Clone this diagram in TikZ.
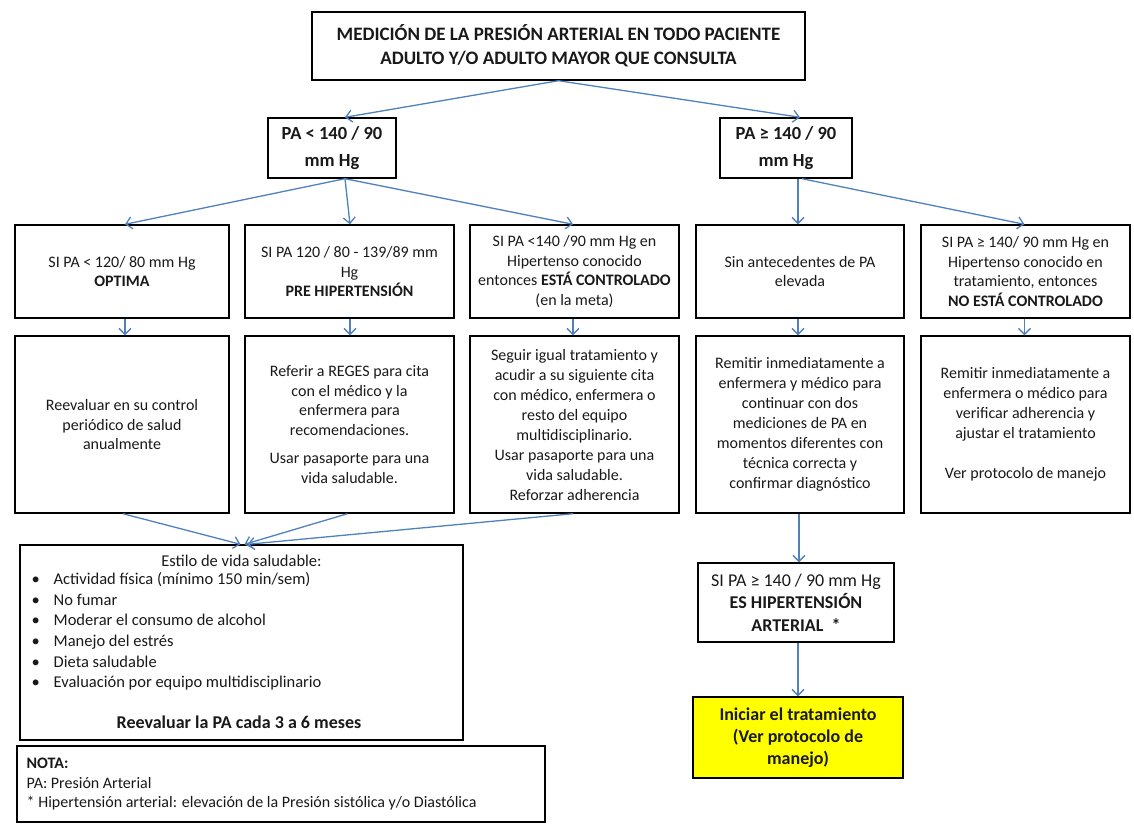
\documentclass[tikz,border=0pt]{standalone}
\usepackage{fontspec}
\setmainfont{Carlito}
\usetikzlibrary{arrows.meta}
\definecolor{arrowblue}{RGB}{79,129,189}
\definecolor{hlyellow}{RGB}{255,255,0}
\tikzset{
  box/.style={draw=black, line width=1.4pt, align=center, inner sep=2pt, text=black!90,
    font=\fontsize{16}{19.5}\selectfont},
  bigbox/.style={box, font=\fontsize{19}{24}\selectfont\bfseries},
  pabox/.style={box, font=\fontsize{18.5}{27}\selectfont\bfseries, minimum height=60},
  rowone/.style={box, minimum height=93},
  rowtwo/.style={box, minimum height=177},
  plain/.style={box, draw=none},
  arr/.style={draw=arrowblue, line width=1.3pt, -{Straight Barb[length=6pt,width=12pt,line width=1.3pt]}},
}
\newcommand{\bul}{\makebox[22pt][l]{•}}
\begin{document}
\begin{tikzpicture}[x=1pt,y=-1pt]
\useasboundingbox (0,0) rectangle (1134,828);

\node[bigbox, minimum width=493, minimum height=68] (top) at (558.5,46)
  {MEDICIÓN DE LA PRESIÓN ARTERIAL EN TODO PACIENTE\\ADULTO Y/O ADULTO MAYOR QUE CONSULTA};
\node[pabox, minimum width=128] (pa1) at (332,148) {PA < 140 / 90\\mm Hg};
\node[pabox, minimum width=132] (pa2) at (786,148) {PA ≥ 140 / 90\\mm Hg};

% row 1
\node[rowone, minimum width=214] (b1) at (122,271.5)
  {SI PA < 120/ 80 mm Hg\\\textbf{OPTIMA}};
\node[rowone, minimum width=209] (b2) at (349.5,271.5)
  {SI PA 120 / 80 - 139/89 mm\\Hg\\\textbf{PRE HIPERTENSIÓN}};
\node[rowone, minimum width=209] (b3) at (574.5,271.5)
  {SI PA <140 /90 mm Hg en\\Hipertenso conocido\\entonces \textbf{ESTÁ CONTROLADO}\\(en la meta)};
\node[rowone, minimum width=208] (b4) at (800,271.5)
  {Sin antecedentes de PA\\elevada};
\node[rowone, minimum width=209] (b5) at (1025.5,271.5)
  {SI PA ≥ 140/ 90 mm Hg en\\Hipertenso conocido en\\tratamiento, entonces\\\textbf{NO ESTÁ CONTROLADO}};

% row 2
\node[rowtwo, minimum width=214] (c1) at (122,424.5)
  {Reevaluar en su control\\periódico de salud\\anualmente};
\node[rowtwo, minimum width=209] (c2) at (349.5,424.5)
  {Referir a REGES para cita\\con el médico y la\\enfermera para\\recomendaciones.\\[9pt]Usar pasaporte para una\\vida saludable.};
\node[rowtwo, minimum width=209, font=\fontsize{16}{20}\selectfont] (c3) at (574.5,424.5)
  {Seguir igual tratamiento y\\acudir a su siguiente cita\\con médico, enfermera o\\resto del equipo\\multidisciplinario.\\Usar pasaporte para una\\vida saludable.\\Reforzar adherencia};
\node[rowtwo, minimum width=208, font=\fontsize{16}{20}\selectfont] (c4) at (800,424.5)
  {Remitir inmediatamente a\\enfermera y médico para\\continuar con dos\\mediciones de PA en\\momentos diferentes con\\técnica correcta y\\confirmar diagnóstico};
\node[rowtwo, minimum width=209, font=\fontsize{16}{20}\selectfont] (c5) at (1025.5,424.5)
  {Remitir inmediatamente a\\enfermera o médico para\\verificar adherencia y\\ajustar el tratamiento\\[20pt]Ver protocolo de manejo};

% lifestyle
\node[box, minimum width=443, minimum height=195] (life) at (241.5,642.5) {};
\node[plain, font=\fontsize{16.5}{20}\selectfont] (lifetitle) at (241.5,561) {Estilo de vida saludable:};
\node[plain, align=left, anchor=west, font=\fontsize{16.5}{20.6}\selectfont] (lifelist) at (29,631.5)
  {\bul Actividad física (mínimo 150 min/sem)\\
   \bul No fumar\\
   \bul Moderar el consumo de alcohol\\
   \bul Manejo del estrés\\
   \bul Dieta saludable\\
   \bul Evaluación por equipo multidisciplinario};
\node[plain, font=\fontsize{18}{22}\selectfont\bfseries] (lifefoot) at (239,722) {Reevaluar la PA cada 3 a 6 meses};

% nota
\node[box, minimum width=528, minimum height=76] (nota) at (281,784) {};
\node[plain, align=left, anchor=west, font=\fontsize{16}{19.5}\selectfont] (notatext) at (24,784.5)
  {\textbf{NOTA:}\\PA: Presión Arterial\\* Hipertensión arterial: elevación de la Presión sistólica y/o Diastólica};

% right lower
\node[box, font=\fontsize{18}{22.5}\selectfont, minimum width=196, minimum height=79] (hta) at (796,602.5)
  {SI PA ≥ 140 / 90 mm Hg\\\textbf{ES HIPERTENSIÓN}\\\textbf{ARTERIAL \ *}};
\node[box, fill=hlyellow, font=\fontsize{18}{22}\selectfont\bfseries, minimum width=210, minimum height=81] (trat) at (798,737.5)
  {Iniciar el tratamiento\\(Ver protocolo de\\manejo)};

% arrows
\draw[arr] (top.south) -- ([xshift=13]pa1.north);
\draw[arr] (top.south) -- ([xshift=14]pa2.north);
\draw[arr] ([xshift=13]pa1.south) -- ([xshift=3]b1.north);
\draw[arr] ([xshift=13]pa1.south) -- ([xshift=0.5]b2.north);
\draw[arr] ([xshift=13]pa1.south) -- ([xshift=-1.5]b3.north);
\draw[arr] ([xshift=12]pa2.south) -- ([xshift=-2]b4.north);
\draw[arr] ([xshift=16]pa2.south) -- ([xshift=-1]b5.north);
\draw[arr] ([xshift=3]b1.south) -- ([xshift=3]c1.north);
\draw[arr] ([xshift=0.5]b2.south) -- ([xshift=0.5]c2.north);
\draw[arr] ([xshift=-1.5]b3.south) -- ([xshift=-1.5]c3.north);
\draw[arr] ([xshift=-2]b4.south) -- ([xshift=-2]c4.north);
\draw[arr] ([xshift=-1]b5.south) -- ([xshift=-1]c5.north);
\draw[arr] ([xshift=1]c1.south) -- ([xshift=-1]life.north);
\draw[arr] ([xshift=-2]c2.south) -- ([xshift=3]life.north);
\draw[arr] ([xshift=-1.5]c3.south) -- ([xshift=6]life.north);
\draw[arr] ([xshift=-1]c4.south) -- ([xshift=3]hta.north);
\draw[arr] ([xshift=2]hta.south) -- (trat.north);
\end{tikzpicture}
\end{document}
